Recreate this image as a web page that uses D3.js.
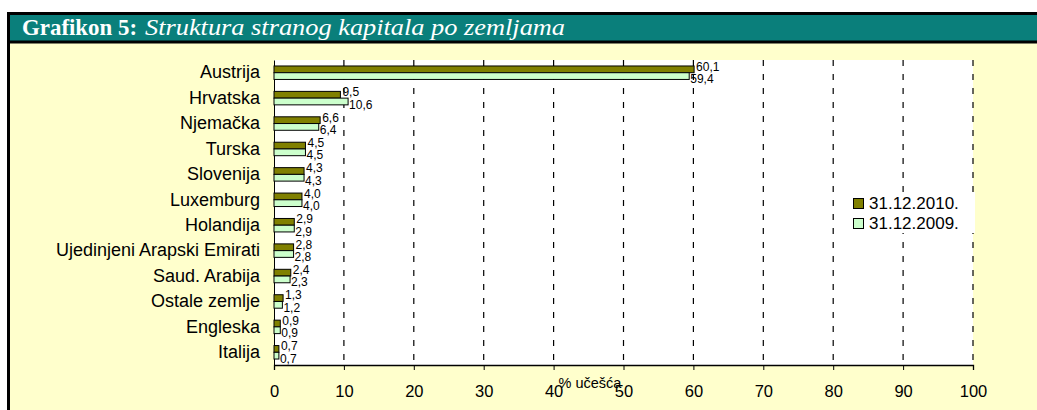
<!DOCTYPE html>
<html><head><meta charset="utf-8">
<script src="https://cdn.jsdelivr.net/npm/d3@7"></script>
<style>html,body{margin:0;padding:0;background:#fff;}svg{display:block;}</style>
</head><body>
<svg id="chart" width="1037" height="410"></svg>
<script>
const categories = ["Austrija","Hrvatska","Njemačka","Turska","Slovenija","Luxemburg","Holandija","Ujedinjeni Arapski Emirati","Saud. Arabija","Ostale zemlje","Engleska","Italija"];
const values2010 = [60.1,9.5,6.6,4.5,4.3,4.0,2.9,2.8,2.4,1.3,0.9,0.7];
const values2009 = [59.4,10.6,6.4,4.5,4.3,4.0,2.9,2.8,2.3,1.2,0.9,0.7];
const seriesNames = ["31.12.2010.","31.12.2009."];
const xTicks = [0,10,20,30,40,50,60,70,80,90,100];
const titleBold = "Grafikon 5:";
const titleItalic = "Struktura stranog kapitala po zemljama";
const axisTitle = "% učešća";

const svg = d3.select("#chart");
const W = 1037, H = 410;
const colors = ["#808000","#CCFFCC"];
const fmt = v => d3.format(".1f")(v).replace(".", ",");
const sans = "'Liberation Sans',Arial,sans-serif";

// background panel
svg.append("rect").attr("x",8).attr("y",13).attr("width",W-8).attr("height",H-13).attr("fill","#FFFFCC");
svg.append("rect").attr("x",8).attr("y",13).attr("width",W-8).attr("height",29).attr("fill","#0A7F7B");
svg.append("line").attr("x1",8).attr("x2",W).attr("y1",13.5).attr("y2",13.5).attr("stroke","#000").attr("stroke-width",3);
svg.append("line").attr("x1",8).attr("x2",W).attr("y1",42).attr("y2",42).attr("stroke","#000").attr("stroke-width",3);
svg.append("line").attr("x1",8.5).attr("x2",8.5).attr("y1",12).attr("y2",H).attr("stroke","#000").attr("stroke-width",3);

svg.append("text").attr("x",22).attr("y",35).attr("fill","#fff")
  .style("font-family","'Liberation Serif','Times New Roman',serif").style("font-size","23px")
  .style("font-weight","bold").attr("textLength",115).attr("lengthAdjust","spacingAndGlyphs").text(titleBold);
svg.append("text").attr("x",145).attr("y",35).attr("fill","#fff")
  .style("font-family","'Liberation Serif','Times New Roman',serif").style("font-size","24px")
  .style("font-style","italic").attr("textLength",420).attr("lengthAdjust","spacingAndGlyphs").text(titleItalic);

// plot area
const m = {l:274, r:973, t:60, b:365};
const x = d3.scaleLinear().domain([0,100]).range([m.l,m.r]);
const y = d3.scaleBand().domain(categories).range([m.t,m.b]).paddingInner(0.47).paddingOuter(0.235);

svg.append("rect").attr("x",m.l).attr("y",m.t).attr("width",m.r-m.l).attr("height",m.b-m.t).attr("fill","#fff");

// gridlines
svg.append("g").selectAll("line").data(xTicks.filter(d=>d>0)).join("line")
  .attr("x1",d=>x(d)).attr("x2",d=>x(d)).attr("y1",m.t).attr("y2",m.b)
  .attr("stroke","#000").attr("stroke-width",1.2).attr("stroke-dasharray","6,8");

// x axis
const xAxis = d3.axisBottom(x).tickValues(xTicks).tickSize(5).tickPadding(15).tickFormat(d3.format("d"));
const gx = svg.append("g").attr("transform",`translate(0,${m.b})`).call(xAxis);
gx.select(".domain").attr("stroke","#000").attr("stroke-width",1.3);
gx.selectAll(".tick line").attr("stroke","#000");
gx.selectAll("text").style("font-family",sans).style("font-size","16.5px").attr("fill","#000");

// y axis
const yAxis = d3.axisLeft(y).tickSize(0).tickPadding(14);
const gy = svg.append("g").attr("transform",`translate(${m.l},0)`).call(yAxis);
gy.select(".domain").attr("stroke","#000").attr("stroke-width",1);
gy.selectAll("text").style("font-family",sans).style("font-size","18px").attr("fill","#000");

// bars
const bh = y.bandwidth()/2;
const data = categories.map((c,i)=>({c, v:[values2010[i], values2009[i]]}));
const groups = svg.append("g").selectAll("g").data(data).join("g")
  .attr("transform",d=>`translate(0,${y(d.c)})`);
[0,1].forEach(s=>{
  groups.append("rect").attr("x",x(0)).attr("y",s*bh).attr("width",d=>x(d.v[s])-x(0)).attr("height",bh)
    .attr("fill",colors[s]).attr("stroke","#000").attr("stroke-width",1);
});
// labels
groups.append("text").attr("x",d=>x(d.v[0])+2).attr("y",0.5).attr("dy","0.35em").text(d=>fmt(d.v[0]));
groups.append("text").attr("x",d=>x(d.v[1])+1).attr("y",2*bh-0.5).attr("dy","0.35em").text(d=>fmt(d.v[1]));
groups.selectAll("text").style("font-family",sans).style("font-size","12px").attr("fill","#000");

// axis title
svg.append("text").attr("x",590).attr("y",388).attr("text-anchor","middle").text(axisTitle)
  .style("font-family",sans).style("font-size","14.5px");

// legend
const lg = svg.append("g").attr("transform","translate(848,192)");
lg.append("rect").attr("width",127).attr("height",41).attr("fill","#fff");
seriesNames.forEach((n,i)=>{
  lg.append("rect").attr("x",5.5).attr("y",6.5+i*20).attr("width",10).attr("height",10).attr("fill",colors[i]).attr("stroke","#000");
  lg.append("text").attr("x",21).attr("y",11.5+i*20).attr("dy","0.35em").text(n)
    .style("font-family",sans).style("font-size","17px");
});
</script>
</body></html>
